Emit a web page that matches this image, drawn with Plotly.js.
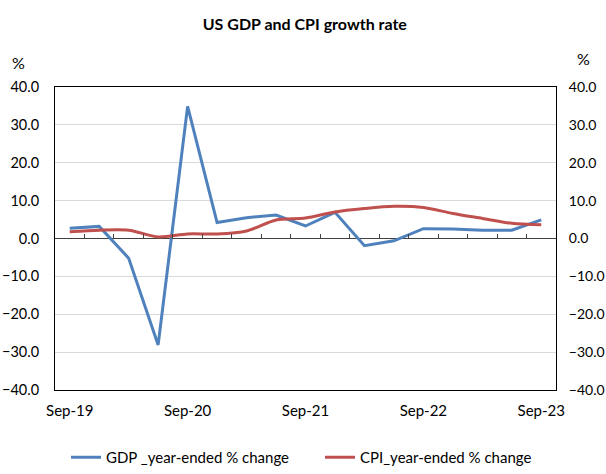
<!DOCTYPE html>
<html>
<head>
<meta charset="utf-8">
<script src="https://cdn.plot.ly/plotly-3.0.1.min.js"></script>
<style>html,body{margin:0;padding:0;background:#fff}#chart{width:606px;height:474px}</style>
</head>
<body>
<div id="chart"></div>
<script>
const quarters = ["Sep-19","Dec-19","Mar-20","Jun-20","Sep-20","Dec-20","Mar-21","Jun-21","Sep-21","Dec-21","Mar-22","Jun-22","Sep-22","Dec-22","Mar-23","Jun-23","Sep-23"];
const gdp = [2.7, 3.2, -5.2, -28.1, 34.9, 4.2, 5.5, 6.2, 3.3, 6.9, -1.9, -0.6, 2.6, 2.5, 2.2, 2.2, 4.9];
const cpi = [1.8, 2.2, 2.2, 0.4, 1.2, 1.2, 2.0, 4.9, 5.4, 7.0, 7.9, 8.5, 8.2, 6.6, 5.3, 4.0, 3.6];
const tickLabels = ["Sep-19","Sep-20","Sep-21","Sep-22","Sep-23"];
const seriesNames = ["GDP _year-ended % change", "CPI_year-ended % change"];

const FONT = "Lato, 'Liberation Sans', sans-serif";
const boundaries = quarters.slice(1).map((_, i) => i + 0.5);

const traces = [
  {x: quarters, y: gdp, name: seriesNames[0], type: "scatter", mode: "lines",
   line: {color: "#4F81BD", width: 3}, xaxis: "x", yaxis: "y", legend: "legend"},
  {x: quarters, y: cpi, name: seriesNames[1], type: "scatter", mode: "lines",
   line: {color: "#C0504D", width: 3, shape: "spline", smoothing: 0.8}, xaxis: "x", yaxis: "y", legend: "legend2"},
  // helper traces so the right axis and the zero-line tick axis are drawn
  {x: [quarters[0]], y: [null], xaxis: "x", yaxis: "y2", showlegend: false, hoverinfo: "skip", mode: "lines"},
  {x: [0], y: [null], xaxis: "x2", yaxis: "y", showlegend: false, hoverinfo: "skip", mode: "lines"}
];

const legendBase = {orientation: "h", xref: "container", xanchor: "left",
                    yref: "container", y: 0, yanchor: "bottom",
                    font: {family: FONT, size: 15}, bgcolor: "rgba(0,0,0,0)"};

const layout = {
  width: 606, height: 474,
  margin: {l: 55, r: 50, t: 87, b: 84, autoexpand: false},
  paper_bgcolor: "#fff", plot_bgcolor: "#fff",
  font: {family: FONT, size: 15, color: "#000"},
  title: {text: "<b>US GDP and CPI growth rate</b>", font: {family: FONT, size: 16, color: "#000"},
          x: 0.503, xref: "container", y: 0.948, yref: "container", yanchor: "middle"},
  xaxis: {type: "category", categoryorder: "array", categoryarray: quarters,
          range: [-0.5, quarters.length - 0.5],
          tickmode: "array", tickvals: tickLabels, ticktext: tickLabels,
          ticks: "", showgrid: false, zeroline: false,
          showline: true, linecolor: "#000", linewidth: 1, mirror: true,
          ticklabelstandoff: 7, tickfont: {family: FONT, size: 15}},
  xaxis2: {overlaying: "x", anchor: "free", position: 0.5, side: "bottom", type: "linear",
           range: [-0.5, quarters.length - 0.5],
           tickmode: "array", tickvals: boundaries, ticks: "inside", ticklen: 5,
           tickcolor: "#404040", tickwidth: 1,
           showticklabels: false, showgrid: false, zeroline: false, showline: false},
  yaxis: {range: [-40, 40], dtick: 10, tick0: 0, tickformat: ".1f",
          showgrid: true, gridcolor: "#d9d9d9", gridwidth: 1,
          zeroline: true, zerolinecolor: "#404040", zerolinewidth: 1,
          showline: true, linecolor: "#000", linewidth: 1, ticks: "",
          ticklabelstandoff: 12, tickfont: {family: FONT, size: 14.5}},
  yaxis2: {overlaying: "y", side: "right", anchor: "x", range: [-40, 40], dtick: 10, tick0: 0,
           tickformat: ".1f", showgrid: false, zeroline: false,
           showline: true, linecolor: "#000", linewidth: 1, ticks: "",
           ticklabelstandoff: 9, tickfont: {family: FONT, size: 14}},
  showlegend: true,
  legend: Object.assign({}, legendBase, {x: 66 / 606}),
  legend2: Object.assign({}, legendBase, {x: 320 / 606}),
  annotations: [
    {text: "%", xref: "paper", yref: "paper", x: -0.072, y: 1.08, showarrow: false,
     font: {family: FONT, size: 16}, xanchor: "center", yanchor: "middle"},
    {text: "%", xref: "paper", yref: "paper", x: 1.054, y: 1.095, showarrow: false,
     font: {family: FONT, size: 16}, xanchor: "center", yanchor: "middle"}
  ]
};

Plotly.newPlot("chart", traces, layout, {displayModeBar: false, staticPlot: true});
</script>
</body>
</html>
